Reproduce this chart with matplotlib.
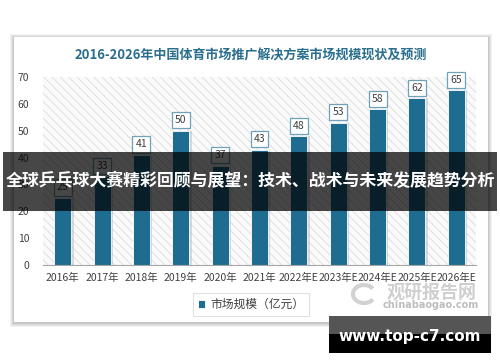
import matplotlib
matplotlib.use("Agg")
from matplotlib import pyplot as plt
from matplotlib.patches import Rectangle, Arc

plt.rcParams['font.family'] = ['Noto Sans CJK SC', 'DejaVu Sans']
plt.rcParams['hatch.linewidth'] = 0.5

# data
years = ['2016年', '2017年', '2018年', '2019年', '2020年', '2021年',
         '2022年E', '2023年E', '2024年E', '2025年E', '2026年E']
market_size = [25, 33, 41, 50, 37, 43, 48, 53, 58, 62, 65]
yticks = [0, 10, 20, 30, 40, 50, 60, 70]

title = '2016-2026年中国体育市场推广解决方案市场规模现状及预测'
series_name = '市场规模（亿元）'
banner = '全球乒乓球大赛精彩回顾与展望：技术、战术与未来发展趋势分析'

W, H = 500, 362
fig = plt.figure(figsize=(5, 3.62), dpi=100)
fig.patch.set_facecolor('white')


def px_rect(x0, y0, x1, y1, **kw):
    # pixel box (top-left origin) -> figure rectangle
    return Rectangle((x0 / W, 1 - y1 / H), (x1 - x0) / W, (y1 - y0) / H,
                     transform=fig.transFigure, **kw)


# card shadow + card
for i, a in enumerate([0.05, 0.05, 0.06, 0.07]):
    d = 4 - i
    fig.patches.append(px_rect(14 - d, 37 - d + 1, 488 + d, 322 + d + 1,
                               facecolor='black', alpha=a, edgecolor='none', zorder=-2))
fig.patches.append(px_rect(14, 37, 488, 322, facecolor='white', edgecolor='none', zorder=-1))

fig.text(251 / W, 1 - 55 / H, title, ha='center', va='center',
         fontsize=9.4, fontweight='bold', color='#2b6f8f')

ax = fig.add_axes([43 / W, 1 - 265 / H, 433 / W, 188 / H])
ax.set_zorder(1)
ax.set_facecolor('none')
ax.add_patch(Rectangle((0, 0), 1, 1, transform=ax.transAxes, facecolor='#fafafa',
                       edgecolor='#d6d6d6', hatch='\\\\\\\\', linewidth=0, zorder=0))

xs = list(range(len(years)))
ax.bar([x + 0.06 for x in xs], market_size, 0.43, color='#b8b8b8', alpha=0.5, zorder=1)
ax.bar(xs, market_size, 0.43, color='#1e6c8f', edgecolor='white', linewidth=0.6,
       zorder=2, label=series_name)

for x, v in zip(xs, market_size):
    ax.annotate(str(v), xy=(x, v), xytext=(0, 7.5), textcoords='offset points',
                ha='center', va='center', fontsize=7.5, color='#404040', zorder=3,
                bbox=dict(boxstyle='square,pad=0.3', facecolor='white',
                          edgecolor='#6fa2b9', linewidth=0.9))

ax.set_xlim(-0.5, len(years) - 0.5)
ax.set_ylim(0, 70)
ax.set_yticks(yticks)
ax.set_xticks(xs)
ax.set_xticklabels(years)
ax.tick_params(axis='both', length=0, labelsize=7.5, colors='#404040')
ax.tick_params(axis='y', pad=10)
ax.tick_params(axis='x', pad=6)
for s in ['top', 'right', 'left']:
    ax.spines[s].set_visible(False)
ax.spines['bottom'].set_color('#a6a6a6')
ax.spines['bottom'].set_zorder(4)

leg = fig.legend(loc='center', bbox_to_anchor=(251 / W, 1 - 304.5 / H), fontsize=8.5,
                 handlelength=0.6, handleheight=0.6, handletextpad=0.4,
                 fancybox=False, edgecolor='#d9d9d9', borderpad=0.45)
leg.get_frame().set_linewidth(0.8)
for t in leg.get_texts():
    t.set_color('#404040')
leg.set_zorder(5)

# watermark
fig.text(432 / W, 1 - 292 / H, '观研报告网', ha='center', va='center', fontsize=13,
         fontweight='bold', color='#cfcfcf', zorder=6)
fig.text(431 / W, 1 - 305 / H, 'chinabaogao.com', ha='center', va='center', fontsize=7,
         color='#bdbdbd', fontweight='bold', family='DejaVu Sans', zorder=6)
fig.patches.append(Arc((364 / W, 1 - 294 / H), 22 / W, 18 / H, theta1=40, theta2=320,
                       transform=fig.transFigure, color='#d2d2d2', linewidth=3, zorder=6))

# banner overlay
fig.patches.append(px_rect(3, 152, 497, 211, facecolor='black', alpha=0.72,
                           edgecolor='none', zorder=10))
fig.text(250 / W, 1 - 181 / H, banner, ha='center', va='center', fontsize=12.2,
         fontweight='bold', color='white', zorder=11)

# bottom-right badge
fig.patches.append(px_rect(329, 316, 491, 334, facecolor='#555555', edgecolor='none', zorder=10))
fig.patches.append(px_rect(329, 334, 491, 353, facecolor='black', edgecolor='none', zorder=10))
fig.text(410 / W, 1 - 337 / H, 'www.top-c7.com', ha='center', va='center', fontsize=11,
         fontweight='bold', color='white', family='DejaVu Sans', zorder=11)

fig.savefig('out.png', dpi=100, facecolor='white')
